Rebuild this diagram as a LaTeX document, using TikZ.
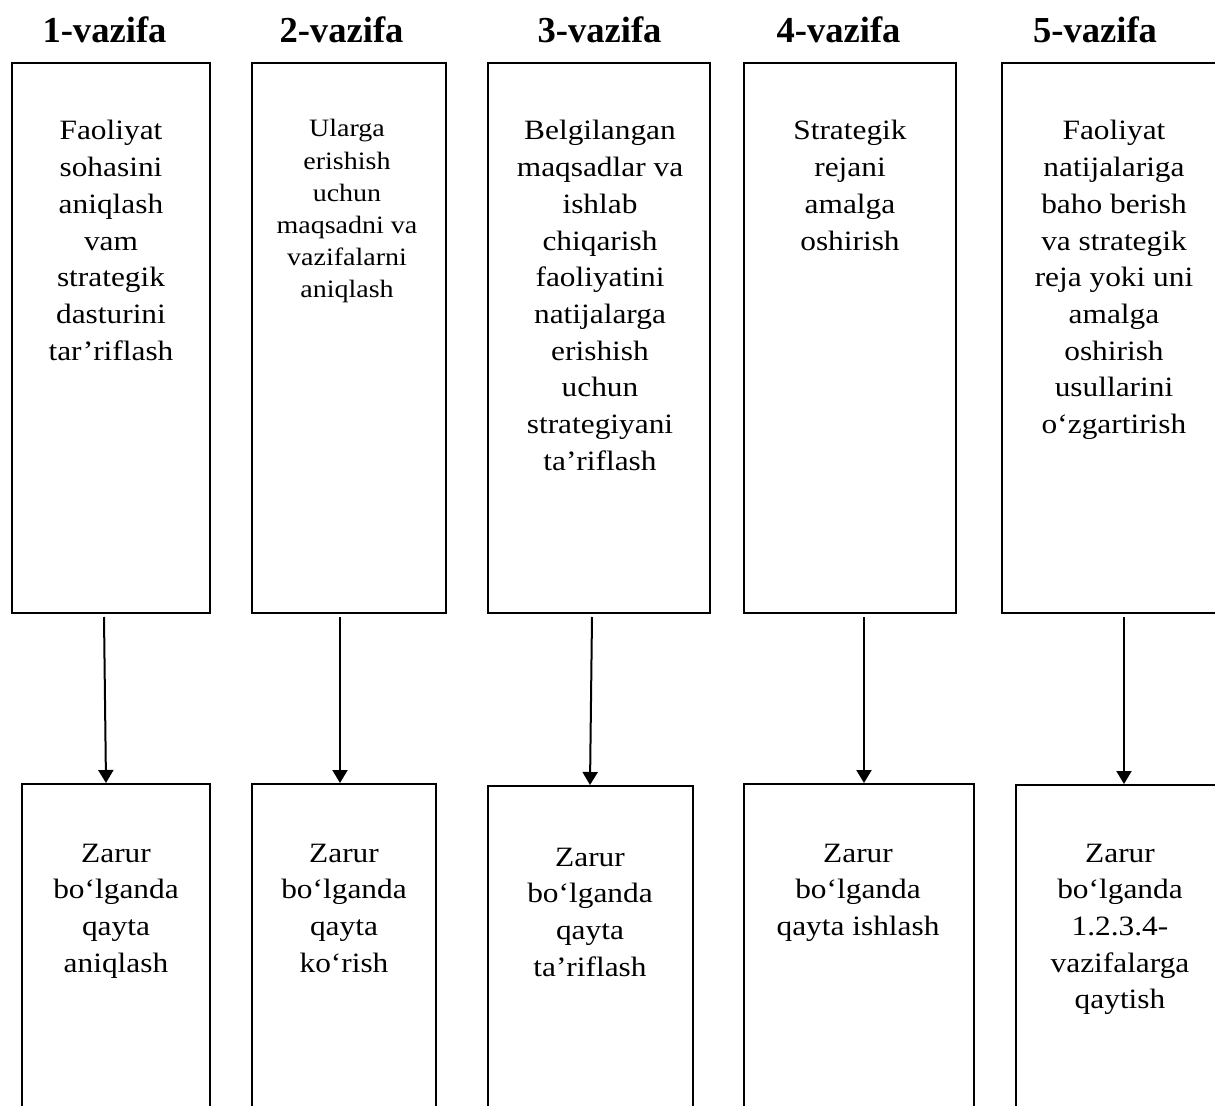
\documentclass[tikz,border=0pt]{standalone}
\usepackage{fontspec}
\setmainfont{Liberation Serif}
\newfontfamily\widefont[FakeStretch=1.12]{Liberation Serif}
\usetikzlibrary{fit,arrows.meta}
% stacked lines whose baseline is the first line
\newcommand\celllines[1]{\begin{tabular}[t]{@{}c@{}}#1\end{tabular}}

\begin{document}
\begin{tikzpicture}[x=0.5pt,y=-0.5pt,
  box/.style={draw, line width=1pt, inner sep=0pt},
  title/.style={font=\bfseries\fontsize{18.3}{22}\selectfont, anchor=base, inner sep=0pt},
  body/.style={font=\widefont\fontsize{14}{18.35}\selectfont, anchor=base, inner sep=0pt},
  small/.style={font=\widefont\fontsize{12.5}{16.1}\selectfont, anchor=base, inner sep=0pt},
  arr/.style={line width=1pt, -{Triangle[length=6.5pt,width=7.5pt]}}]

\useasboundingbox (0,0) rectangle (1215,1106);
\clip (0,0) rectangle (1215,1106);

% headings
\node[title] (h1) at (104.5,43) {1-vazifa};
\node[title] (h2) at (341.5,43) {2-vazifa};
\node[title] (h3) at (599.5,43) {3-vazifa};
\node[title] (h4) at (838.5,43) {4-vazifa};
\node[title] (h5) at (1095,43) {5-vazifa};

% upper boxes
\node[box, fit={(12,63) (210,613)}] (t1) {};
\node[box, fit={(252,63) (446,613)}] (t2) {};
\node[box, fit={(488,63) (710,613)}] (t3) {};
\node[box, fit={(744,63) (956,613)}] (t4) {};
\node[box, fit={(1002,63) (1226,613)}] (t5) {};

% lower boxes
\node[box, fit={(22,784) (210,1130)}] (b1) {};
\node[box, fit={(252,784) (436,1130)}] (b2) {};
\node[box, fit={(488,786) (693,1130)}] (b3) {};
\node[box, fit={(744,784) (974,1130)}] (b4) {};
\node[box, fit={(1016,785) (1226,1130)}] (b5) {};

% texts of the upper boxes
\node[body] (x1) at (111,140) {\celllines{Faoliyat\\sohasini\\aniqlash\\vam\\strategik\\dasturini\\tar’riflash}};
\node[small] (x2) at (347,137) {\celllines{Ularga\\erishish\\uchun\\maqsadni va\\vazifalarni\\aniqlash}};
\node[body] (x3) at (600,140) {\celllines{Belgilangan\\maqsadlar va\\ishlab\\chiqarish\\faoliyatini\\natijalarga\\erishish\\uchun\\strategiyani\\ta’riflash}};
\node[body] (x4) at (850,140) {\celllines{Strategik\\rejani\\amalga\\oshirish}};
\node[body] (x5) at (1114,140) {\celllines{Faoliyat\\natijalariga\\baho berish\\va strategik\\reja yoki uni\\amalga\\oshirish\\usullarini\\o‘zgartirish}};

% texts of the lower boxes
\node[body] (y1) at (116,862) {\celllines{Zarur\\bo‘lganda\\qayta\\aniqlash}};
\node[body] (y2) at (344,862) {\celllines{Zarur\\bo‘lganda\\qayta\\ko‘rish}};
\node[body] (y3) at (590,866) {\celllines{Zarur\\bo‘lganda\\qayta\\ta’riflash}};
\node[body] (y4) at (858,862) {\celllines{Zarur\\bo‘lganda\\qayta ishlash}};
\node[body] (y5) at (1120,862) {\celllines{Zarur\\bo‘lganda\\1.2.3.4-\\vazifalarga\\qaytish}};

% connectors
\draw[arr] ([xshift=-3.5pt,yshift=-1.5pt]t1.south) -- ([xshift=-5pt]b1.north);
\draw[arr] ([xshift=-4.5pt,yshift=-1.5pt]t2.south) -- ([xshift=-2pt]b2.north);
\draw[arr] ([xshift=-3.5pt,yshift=-1.5pt]t3.south) -- ([xshift=-0.25pt]b3.north);
\draw[arr] ([xshift=7pt,yshift=-1.5pt]t4.south) -- ([xshift=2.5pt]b4.north);
\draw[arr] ([xshift=5pt,yshift=-1.5pt]t5.south) -- ([xshift=1.5pt]b5.north);
\end{tikzpicture}
\end{document}
